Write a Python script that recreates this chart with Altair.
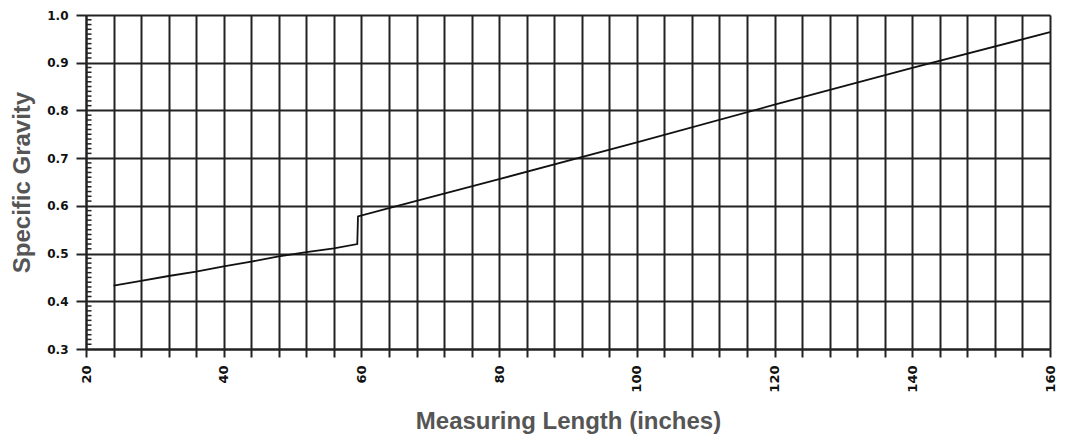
import altair as alt
import pandas as pd

# Measured curve (inches vs specific gravity)
length_in = [24, 28, 32, 36, 40, 44, 48, 52, 56, 59.4, 59.5, 64, 80, 100, 120, 140, 160]
gravity = [0.433, 0.443, 0.453, 0.462, 0.473, 0.483, 0.494, 0.503, 0.511, 0.520,
           0.578, 0.595, 0.656, 0.733, 0.812, 0.889, 0.964]

x_ticks = list(range(20, 161, 4))
y_ticks = [0.3, 0.4, 0.5, 0.6, 0.7, 0.8, 0.9, 1.0]
y_minor = [round(0.3 + i * 0.01, 2) for i in range(1, 70) if i % 10 != 0]

curve = pd.DataFrame({"x": length_in, "y": gravity, "o": list(range(len(length_in)))})
minor = pd.DataFrame({"y": y_minor, "x0": [20] * len(y_minor), "x1": [20.8] * len(y_minor)})

xs = alt.Scale(domain=[20, 160], nice=False, zero=False)
ys = alt.Scale(domain=[0.3, 1.0], nice=False, zero=False)

x_axis = alt.Axis(
    values=x_ticks,
    tickCount=100,
    labelExpr="datum.value % 20 === 0 ? datum.label : ''",
    labelOverlap=False,
    labelAngle=270,
    labelFont="DejaVu Sans", labelFontWeight="bold", labelFontSize=13, labelColor="#111",
    labelPadding=8,
    tickSize=8, tickWidth=2, tickColor="#222",
    domainColor="#222", domainWidth=2,
    grid=True, gridColor="#222", gridWidth=2, gridOpacity=1,
    title="Measuring Length (inches)",
    titleFont="Liberation Sans", titleFontWeight="bold", titleFontSize=24, titleColor="#555",
    titleX=482, titleY=72, titleBaseline="middle", titleAlign="center",
    labelFlush=False,
)
y_axis = alt.Axis(
    values=y_ticks, format=".1f",
    tickCount=20,
    labelOverlap=False,
    labelFont="DejaVu Sans", labelFontWeight="bold", labelFontSize=12, labelColor="#111",
    labelPadding=8,
    tickSize=10, tickWidth=2, tickColor="#222",
    domainColor="#222", domainWidth=2,
    grid=True, gridColor="#222", gridWidth=2, gridOpacity=1,
    title="Specific Gravity",
    titleFont="Liberation Sans", titleFontWeight="bold", titleFontSize=24, titleColor="#555",
    titleAngle=270, titleX=-64, titleY=167, titleBaseline="middle", titleAlign="center",
    labelFlush=False,
)

line = alt.Chart(curve).mark_line(color="#111", strokeWidth=1.8).encode(
    x=alt.X("x:Q", scale=xs, axis=x_axis),
    y=alt.Y("y:Q", scale=ys, axis=y_axis),
    order="o:Q",
)

minor_ticks = alt.Chart(minor).mark_rule(color="#222", strokeWidth=1.5).encode(
    x=alt.X("x0:Q", scale=xs),
    x2="x1:Q",
    y=alt.Y("y:Q", scale=ys),
)

chart = alt.layer(line, minor_ticks).properties(
    width=964, height=334,
    autosize=alt.AutoSizeParams(type="none"),
    padding={"left": 78, "top": 7, "right": 7, "bottom": 85},
).configure_view(stroke=None).configure(background="white")

chart.save("out.html", embed_options={"renderer": "svg", "actions": False})
